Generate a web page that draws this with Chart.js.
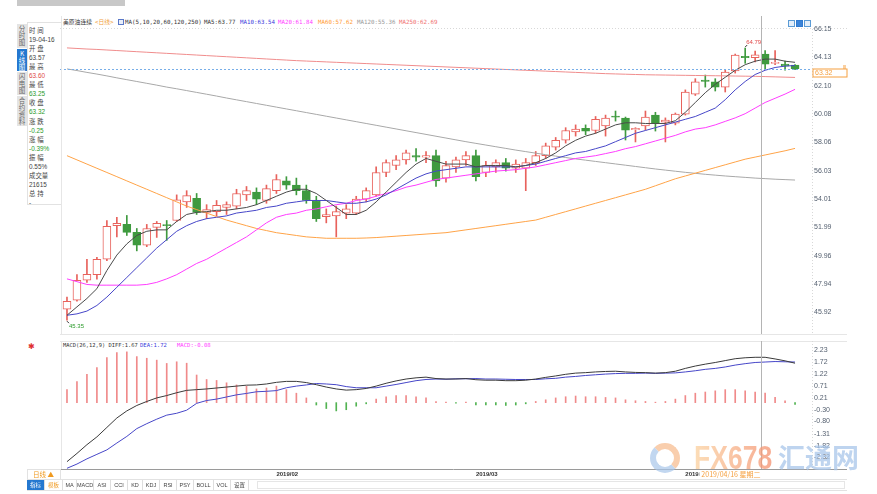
<!DOCTYPE html>
<html><head><meta charset="utf-8">
<script src="https://cdn.jsdelivr.net/npm/chart.js@4.4.0/dist/chart.umd.min.js"></script>
<style>
body{margin:0;width:877px;height:494px;background:#fff;position:relative;overflow:hidden;font-family:'Noto Sans CJK SC','DejaVu Sans',sans-serif;}
.a{position:absolute;white-space:nowrap;}
.mono{font-family:'DejaVu Sans Mono','Noto Sans CJK SC',monospace;font-size:5.8px;line-height:6px;}
.tab{position:absolute;left:17px;width:10px;background:#e4e4e4;color:#666;font-size:6.5px;line-height:7px;text-align:center;padding-top:1px;box-sizing:border-box;}
.info{position:absolute;left:29px;font-size:6.4px;line-height:7px;color:#444;font-family:'Liberation Sans','Noto Sans CJK SC',sans-serif;}
.tb{position:absolute;top:480px;height:10px;font-size:5.5px;line-height:10px;color:#444;text-align:center;border-right:1px solid #dedede;font-family:'Liberation Sans','Noto Sans CJK SC',sans-serif;}
canvas{position:absolute;}
</style></head><body>

<div class="a" style="left:17px;top:0;width:108px;height:6px;background:#c8c8c8"></div>

<div class="tab" style="top:24px;height:24px">分<br>时<br>图</div>
<div class="tab" style="top:49px;height:22px;background:#2478d0;color:#fff">K<br>线<br>图</div>
<div class="tab" style="top:72px;height:23px">闪<br>电<br>图</div>
<div class="tab" style="top:96px;height:30px">合<br>约<br>资<br>料</div>
<div class="a" style="left:27px;top:22px;width:34px;height:183px;border:1px solid #e2e2e2;border-right:none;box-sizing:border-box"></div>

<div id="info"></div>

<div class="a mono" style="left:63px;top:19px;color:#333">美原油连续</div>
<div class="a mono" style="left:95px;top:19px;color:#f0a040">&lt;日线&gt;</div>
<div class="a" style="left:118px;top:19px;width:6px;height:6px;border:1px solid #5a78c8;background:#e8eefa;box-sizing:border-box"></div>
<div class="a mono" style="left:125px;top:19px;color:#333">MA(5,10,20,60,120,250)</div>
<div class="a mono" style="left:204px;top:19px;color:#333">MA5:63.77</div>
<div class="a mono" style="left:240px;top:19px;color:#3b3bdc">MA10:63.54</div>
<div class="a mono" style="left:278px;top:19px;color:#ff3cff">MA20:61.84</div>
<div class="a mono" style="left:318px;top:19px;color:#ff9a33">MA60:57.62</div>
<div class="a mono" style="left:357px;top:19px;color:#999">MA120:55.36</div>
<div class="a mono" style="left:399px;top:19px;color:#f07070">MA250:62.69</div>

<div class="a" style="left:788px;top:20px;width:7px;height:7px;border:1px solid #5b9bd5;background:#e3eefa;box-sizing:border-box"></div>
<div class="a" style="left:796px;top:20px;width:7px;height:7px;border:1px solid #2f7ad0;background:#3c84d8;box-sizing:border-box"></div>
<div class="a" style="left:804px;top:20px;width:7px;height:7px;border:1px solid #5b9bd5;background:#e3eefa;box-sizing:border-box"></div>

<canvas id="cp" width="817" height="319" style="left:60px;top:16px"></canvas>

<div class="a" style="left:28px;top:342px;color:#e03030;font-size:8px;line-height:8px">✱</div>
<div class="a mono" style="left:63px;top:342px;color:#333;font-size:5.4px">MACD(26,12,9) DIFF:1.67</div>
<div class="a mono" style="left:140px;top:342px;color:#3b3bdc;font-size:5.6px">DEA:1.72</div>
<div class="a mono" style="left:177px;top:342px;color:#ff3cff;font-size:5.6px">MACD:-0.08</div>

<canvas id="cm" width="817" height="140" style="left:60px;top:341px"></canvas>

<div class="a" style="left:650px;top:443px;width:30px;height:30px;border-radius:50%;box-sizing:border-box;border:6px solid;border-color:#f7b98a #f7b98a #a9c6ea #a9c6ea;opacity:0.7"></div>
<div class="a" style="left:694px;top:438px;font-family:'Liberation Sans',sans-serif;font-weight:bold;font-size:34px;line-height:38px;transform:scaleX(0.78);transform-origin:left top;background:linear-gradient(90deg,#fbd2a0,#f4906e);-webkit-background-clip:text;color:transparent;opacity:0.75">FX678</div>
<div class="a" style="left:778px;top:441px;font-size:27px;line-height:32px;color:#a9c6ea;opacity:0.75;font-weight:bold">汇通网</div>

<div class="a" style="left:27px;top:469px;width:34px;height:11px;border:1px solid #e2e2e2;box-sizing:border-box"></div>
<div class="a" style="left:33px;top:471px;font-size:6.5px;line-height:7px;color:#f09a20">日线 ▲</div>
<div class="a" style="left:27px;top:479px;width:820px;height:12px;border-top:1px solid #e2e2e2;border-bottom:1px solid #e2e2e2;box-sizing:border-box"></div>
<div id="toolbar"></div>
<div class="a" style="left:257px;top:481px;width:588px;height:8px;border:1px solid #e6e6e6;box-sizing:border-box"></div>

<script>
// ---------- data ----------
const dates = ['2019/01/02','2019/01/03','2019/01/04','2019/01/07','2019/01/08','2019/01/09','2019/01/10','2019/01/11','2019/01/14','2019/01/15','2019/01/16','2019/01/17','2019/01/18','2019/01/22','2019/01/23','2019/01/24','2019/01/25','2019/01/28','2019/01/29','2019/01/30','2019/01/31',
'2019/02/01','2019/02/04','2019/02/05','2019/02/06','2019/02/07','2019/02/08','2019/02/11','2019/02/12','2019/02/13','2019/02/14','2019/02/15','2019/02/18','2019/02/19','2019/02/20','2019/02/21','2019/02/22','2019/02/25','2019/02/26','2019/02/27','2019/02/28',
'2019/03/01','2019/03/04','2019/03/05','2019/03/06','2019/03/07','2019/03/08','2019/03/11','2019/03/12','2019/03/13','2019/03/14','2019/03/15','2019/03/18','2019/03/19','2019/03/20','2019/03/21','2019/03/22','2019/03/25','2019/03/26','2019/03/27','2019/03/28','2019/03/29',
'2019/04/01','2019/04/02','2019/04/03','2019/04/04','2019/04/05','2019/04/08','2019/04/09','2019/04/10','2019/04/11','2019/04/12','2019/04/15','2019/04/16'];

const openP = [46.13,46.77,48.20,48.60,49.70,52.10,52.19,51.62,50.70,51.98,
52.15,52.47,53.80,54.05,53.05,53.10,53.40,53.50,54.30,54.50,
53.90,54.60,55.30,55.00,54.60,53.90,52.75,52.80,53.00,53.00,
54.00,54.30,55.90,56.40,56.80,57.10,57.00,57.10,55.50,56.30,
56.80,57.10,55.90,56.30,56.60,56.20,56.20,56.60,57.10,57.70,
58.20,58.80,59.05,58.90,59.22,59.90,59.79,58.95,59.22,60.00,
59.50,59.43,60.07,61.50,62.50,62.37,62.00,63.15,64.20,64.10,
64.36,63.70,63.64,63.57];
const highP = [46.99,48.60,49.70,49.84,52.47,52.70,52.83,51.90,52.19,52.40,
52.47,54.30,54.60,54.40,53.60,53.90,53.80,54.70,54.90,54.80,
55.00,55.75,55.60,55.50,55.00,54.20,53.30,53.50,53.60,54.20,
54.80,56.30,56.80,57.10,57.50,57.60,57.40,57.50,56.70,57.00,
57.40,57.50,56.70,56.80,56.90,56.80,56.90,57.40,58.00,58.40,
59.10,59.30,59.30,59.90,60.00,60.29,59.86,59.10,60.29,60.20,
59.80,60.15,61.80,62.60,62.86,62.60,63.20,64.36,64.79,64.57,
64.60,64.60,63.85,63.60];
const lowP = [45.35,46.70,48.05,48.27,49.60,51.30,51.40,50.30,50.60,51.26,
51.05,52.40,53.40,52.90,52.60,52.80,52.90,53.30,53.90,53.60,
53.70,54.40,54.70,54.30,53.70,52.40,52.30,51.30,52.60,52.90,
53.80,54.20,55.60,56.10,56.50,56.70,56.60,54.90,55.20,55.90,
56.40,55.30,55.60,55.90,56.00,55.90,54.60,56.40,56.90,57.50,
58.00,58.50,58.60,58.70,58.50,59.57,58.22,58.08,58.93,58.86,
58.08,59.30,60.00,61.40,62.00,61.72,61.65,63.00,63.70,63.80,
63.30,63.60,63.20,63.25];
const closeP = [46.70,48.20,48.63,49.70,52.05,52.27,51.62,50.70,51.90,52.26,
52.10,53.95,54.25,53.05,53.25,53.55,53.60,54.40,54.60,54.00,
54.75,55.40,55.00,54.60,53.90,52.60,52.90,53.10,53.30,54.00,
54.60,55.90,56.60,56.80,57.30,57.00,57.10,55.30,56.40,56.80,
57.10,55.60,56.40,56.60,56.20,56.50,56.60,57.10,57.80,58.20,
58.90,59.00,58.85,59.70,59.79,59.85,58.93,59.05,59.86,59.43,
59.65,60.07,61.65,62.37,62.40,62.00,63.08,64.29,64.10,64.30,
63.64,63.72,63.50,63.32];

const ma5 = [45.70,46.30,46.90,47.60,48.90,50.00,50.80,51.40,51.70,51.80,
51.80,52.40,52.90,53.05,53.10,53.20,53.20,53.30,53.40,53.60,
53.90,54.20,54.50,54.70,54.70,54.40,53.90,53.40,52.90,52.90,
53.20,53.80,54.50,55.20,55.90,56.50,56.90,56.70,56.50,56.50,
56.50,56.30,56.40,56.40,56.40,56.30,56.40,56.60,56.90,57.30,
57.80,58.20,58.50,58.70,59.00,59.30,59.45,59.45,59.40,59.40,
59.40,59.60,60.20,60.90,61.60,62.20,62.70,63.20,63.60,63.85,
64.00,64.00,63.85,63.77];
const ma10 = [45.70,45.80,46.00,46.40,47.00,47.70,48.40,49.10,49.80,50.50,
51.10,51.70,52.10,52.40,52.60,52.70,52.80,53.00,53.10,53.20,
53.40,53.50,53.70,53.80,53.90,53.90,53.90,53.80,53.70,53.70,
53.80,54.00,54.30,54.70,55.10,55.50,55.80,56.00,56.10,56.20,
56.30,56.30,56.30,56.30,56.30,56.30,56.40,56.50,56.70,56.90,
57.10,57.30,57.40,57.60,57.80,58.10,58.40,58.70,58.90,59.10,
59.30,59.50,59.70,59.90,60.20,60.50,61.10,61.80,62.40,62.90,
63.20,63.40,63.50,63.54];
const ma20 = [48.30,48.10,47.90,47.85,47.85,47.85,47.85,47.85,47.90,48.05,
48.30,48.60,49.00,49.40,49.70,50.10,50.50,50.90,51.30,51.80,
52.30,52.70,52.90,53.00,53.20,53.30,53.45,53.60,53.70,53.90,
54.00,54.20,54.40,54.60,54.85,55.00,55.20,55.40,55.50,55.60,
55.70,55.80,55.90,56.00,56.05,56.10,56.20,56.30,56.45,56.60,
56.75,56.90,57.00,57.10,57.25,57.40,57.60,57.75,57.95,58.15,
58.35,58.55,58.80,59.00,59.10,59.30,59.55,59.80,60.10,60.50,
60.90,61.20,61.50,61.84];
const ma60 = [57.10,56.80,56.50,56.20,55.90,55.60,55.30,55.00,54.70,54.40,
54.10,53.80,53.50,53.25,53.00,52.75,52.50,52.30,52.10,51.90,
51.75,51.60,51.50,51.40,51.30,51.25,51.20,51.20,51.20,51.20,
51.22,51.25,51.30,51.35,51.40,51.45,51.50,51.55,51.60,51.70,
51.80,51.90,52.00,52.10,52.20,52.30,52.40,52.50,52.70,52.90,
53.10,53.30,53.50,53.70,53.90,54.10,54.30,54.50,54.70,54.95,
55.20,55.45,55.65,55.85,56.05,56.25,56.45,56.65,56.85,57.00,
57.15,57.30,57.45,57.62];
const ma120 = [63.30,63.18,63.05,62.93,62.80,62.66,62.53,62.40,62.27,62.14,
62.00,61.88,61.75,61.62,61.49,61.36,61.22,61.09,60.96,60.83,
60.70,60.57,60.44,60.31,60.18,60.05,59.92,59.79,59.66,59.53,
59.40,59.27,59.14,59.01,58.88,58.75,58.62,58.49,58.36,58.23,
58.10,57.98,57.86,57.74,57.62,57.50,57.39,57.28,57.17,57.07,
56.97,56.87,56.78,56.69,56.60,56.51,56.42,56.33,56.24,56.15,
56.07,55.99,55.91,55.84,55.77,55.71,55.65,55.60,55.55,55.50,
55.46,55.42,55.39,55.36];
const ma250 = [64.80,64.76,64.72,64.69,64.65,64.61,64.57,64.53,64.49,64.45,
64.41,64.37,64.33,64.29,64.25,64.21,64.17,64.13,64.09,64.05,
64.01,63.97,63.93,63.89,63.86,63.83,63.80,63.77,63.74,63.71,
63.68,63.65,63.62,63.59,63.56,63.53,63.50,63.47,63.44,63.41,
63.38,63.35,63.32,63.29,63.26,63.23,63.20,63.17,63.14,63.11,
63.08,63.05,63.02,62.99,62.96,62.94,62.92,62.90,62.88,62.87,
62.86,62.85,62.84,62.83,62.82,62.81,62.80,62.79,62.78,62.77,
62.75,62.73,62.71,62.69];

const macdHist = [0.55,0.89,1.20,1.48,1.91,2.12,2.15,1.95,1.88,1.80,
1.66,1.73,1.67,1.17,0.98,0.94,0.84,0.75,0.70,0.58,
0.62,0.70,0.55,0.40,0.20,-0.10,-0.25,-0.35,-0.30,-0.15,
-0.05,0.15,0.25,0.30,0.30,0.25,0.20,0.05,0.02,-0.02,
0.02,-0.10,-0.10,-0.10,-0.12,-0.10,-0.05,0.05,0.12,0.20,
0.25,0.28,0.25,0.25,0.22,0.20,0.12,0.08,0.05,0.02,
0.05,0.15,0.30,0.40,0.45,0.50,0.55,0.55,0.50,0.45,
0.40,0.23,0.08,-0.08];
const diffLine = [-2.50,-2.15,-1.78,-1.45,-1.05,-0.65,-0.35,-0.12,0.05,0.20,
0.30,0.42,0.52,0.55,0.58,0.62,0.66,0.70,0.74,0.75,
0.79,0.86,0.90,0.90,0.85,0.76,0.66,0.58,0.53,0.55,
0.60,0.70,0.82,0.92,1.00,1.05,1.08,1.02,1.00,1.00,
1.02,0.97,0.95,0.95,0.93,0.93,0.95,1.00,1.07,1.13,
1.20,1.25,1.27,1.30,1.32,1.33,1.30,1.28,1.27,1.25,
1.27,1.33,1.45,1.55,1.63,1.70,1.78,1.86,1.90,1.92,
1.92,1.85,1.77,1.67];
const deaLine = [-2.78,-2.60,-2.38,-2.19,-2.00,-1.71,-1.43,-1.10,-0.89,-0.70,
-0.53,-0.45,-0.32,-0.03,0.09,0.15,0.24,0.33,0.39,0.46,
0.48,0.51,0.63,0.70,0.75,0.81,0.79,0.76,0.68,0.63,
0.63,0.63,0.70,0.77,0.85,0.93,0.98,1.00,0.99,1.01,
1.01,1.02,1.00,1.00,0.99,0.98,0.98,0.98,1.01,1.03,
1.08,1.11,1.15,1.18,1.21,1.23,1.24,1.24,1.25,1.24,
1.25,1.26,1.30,1.35,1.41,1.45,1.51,1.59,1.65,1.70,
1.72,1.74,1.73,1.72];

const priceTicks = [45.92,47.94,49.96,51.99,54.01,56.03,58.06,60.08,62.10,64.13,66.15];
const macdTicks = [2.23,1.72,1.22,0.71,0.21,-0.30,-0.80,-1.31,-1.82,-2.32];
const monthLabels = ['2019/02','2019/03','2019/04'];
const crossIdx = 69.6;
const crossLabel = '2019/04/16 星期二';

const infoRows = [['时 间','#444'],['19-04-16','#444'],['开 盘','#444'],['63.57','#444'],['最 高','#444'],['63.60','#e04848'],
['最 低','#444'],['63.25','#2a9a2a'],['收 盘','#444'],['63.32','#2a9a2a'],['涨 跌','#444'],['-0.25','#2a9a2a'],
['涨 幅','#444'],['-0.39%','#2a9a2a'],['振 幅','#444'],['0.55%','#444'],['成交量','#444'],['21615','#444'],['总 持','#444'],['-','#444']];
const toolItems = ['指标','模板','MA','MACD','ASI','CCI','KD','KDJ','RSI','PSY','BOLL','VOL','设置'];

// ---------- html bits ----------
const info = document.getElementById('info');
infoRows.forEach((r,i)=>{
  const d=document.createElement('div'); d.className='info';
  d.style.top=(26.5+i*9.1)+'px'; d.style.color=r[1]; d.textContent=r[0]; info.appendChild(d);
});
const tb = document.getElementById('toolbar');
const tbW = [17,17,13,16,16,16,14,16,16,16,19,16,17];
let tx=27;
toolItems.forEach((t,i)=>{
  const d=document.createElement('div'); d.className='tb'; d.textContent=t;
  d.style.left=tx+'px'; d.style.width=tbW[i]+'px';
  if(i===0){d.style.background='#2478d0';d.style.color='#fff';}
  if(i===1){d.style.color='#f09a20';}
  tb.appendChild(d); tx+=tbW[i]+1;
});

// ---------- charts ----------
const N = dates.length;
const RED='#e8625c', GREEN='#3f9a3f';
const isUp = closeP.map((c,i)=>c>=openP[i]);
const xy = arr => arr.map((v,i)=>({x:i,y:v}));
const monthIdx = [];
dates.forEach((d,i)=>{ if(i>0 && d.slice(0,7)!==dates[i-1].slice(0,7)) monthIdx.push(i); });
const xMin=-0.70, xMax=74.70;
const fixY = w => s => { s.width=w; s.paddingTop=0; s.paddingBottom=0; };

const lineDs = (arr,color)=>({type:'line',data:xy(arr),borderColor:color,borderWidth:1,pointRadius:0,tension:0,order:0});

const pricePlugin = {
  id:'pp',
  afterDatasetsDraw(chart){
    const {ctx, chartArea:a, scales:{x,y}} = chart;
    ctx.save();
    ctx.lineWidth=1;
    ctx.strokeStyle='#d8d8d8'; ctx.setLineDash([1,2]);
    ctx.beginPath(); ctx.moveTo(a.left,a.top-0.5); ctx.lineTo(a.right+35,a.top-0.5); ctx.stroke();
    ctx.beginPath(); ctx.moveTo(a.right+0.5,a.top); ctx.lineTo(a.right+0.5,a.bottom); ctx.stroke();
    const yl = Math.round(y.getPixelForValue(closeP[N-1]))+0.5;
    ctx.strokeStyle='#78aee8'; ctx.setLineDash([2,2]);
    ctx.beginPath(); ctx.moveTo(a.left,yl); ctx.lineTo(a.right,yl); ctx.stroke();
    ctx.setLineDash([]);
    const xc = Math.round(x.getPixelForValue(crossIdx))+0.5;
    ctx.strokeStyle='#b4b4b4';
    ctx.beginPath(); ctx.moveTo(xc,0); ctx.lineTo(xc,a.bottom); ctx.stroke();
    ctx.strokeStyle='#e6e6e6';
    ctx.beginPath(); ctx.moveTo(a.left,a.bottom-0.5); ctx.lineTo(a.right+35,a.bottom-0.5); ctx.stroke();
    ctx.beginPath(); ctx.moveTo(a.left+1.5,0); ctx.lineTo(a.left+1.5,a.bottom); ctx.stroke();
    let iMax=0,iMin=0;
    highP.forEach((v,i)=>{ if(v>highP[iMax]) iMax=i; });
    lowP.forEach((v,i)=>{ if(v<lowP[iMin]) iMin=i; });
    ctx.font='6px "Liberation Sans"'; ctx.textBaseline='middle'; ctx.textAlign='left';
    let px=x.getPixelForValue(iMax), py=y.getPixelForValue(highP[iMax]);
    ctx.strokeStyle='#333'; ctx.beginPath(); ctx.moveTo(px,py-1); ctx.lineTo(px+2,py-3); ctx.stroke();
    ctx.fillStyle='#e04848'; ctx.fillText(highP[iMax].toFixed(2), px+1, py-6);
    px=x.getPixelForValue(iMin); py=y.getPixelForValue(lowP[iMin]);
    ctx.strokeStyle='#333'; ctx.beginPath(); ctx.moveTo(px,py+1); ctx.lineTo(px+2,py+3); ctx.stroke();
    ctx.fillStyle='#2a9a2a'; ctx.fillText(lowP[iMin].toFixed(2), px+2, py+6);
    ctx.fillStyle='#fff'; ctx.fillRect(a.right+1, yl-0.5, 34, 8);
    ctx.strokeStyle='#f5a040'; ctx.strokeRect(a.right+1, yl-0.5, 34, 8);
    ctx.fillStyle='#f5a040'; ctx.font='7px "Liberation Sans"';
    ctx.fillText(closeP[N-1].toFixed(2), a.right+3, yl+3.5);
    ctx.fillRect(a.right+31, yl-4, 3, 1); ctx.fillRect(a.right+31, yl-2, 3, 1);
    ctx.restore();
  }
};

new Chart(document.getElementById('cp'), {
  type:'bar',
  data:{datasets:[
    lineDs(ma5,'#4a4a4a'), lineDs(ma10,'#4646c8'), lineDs(ma20,'#ff3cff'),
    lineDs(ma60,'#ffa347'), lineDs(ma120,'#a8a8a8'), lineDs(ma250,'#f08c8c'),
    {type:'bar', data:dates.map((d,i)=>({x:i,y:[openP[i],closeP[i]]})),
     backgroundColor:isUp.map(u=>u?'#ffffff':GREEN), borderColor:isUp.map(u=>u?RED:GREEN),
     borderWidth:1, borderSkipped:false, barThickness:8, grouped:false, order:1, minBarLength:1},
    {type:'bar', data:dates.map((d,i)=>({x:i,y:[lowP[i],highP[i]]})),
     backgroundColor:isUp.map(u=>u?RED:GREEN), borderWidth:0, barThickness:1, grouped:false, order:2}
  ]},
  options:{responsive:false, animation:false, events:[], layout:{padding:{top:13,left:0,right:0,bottom:0}},
    plugins:{legend:{display:false}, tooltip:{enabled:false}},
    scales:{
      x:{type:'linear', offset:false, min:xMin, max:xMax, display:false},
      y:{position:'right', min:44.29, max:66.15,
         afterBuildTicks:s=>{ s.ticks = priceTicks.map(v=>({value:v})); },
         afterFit:fixY(65),
         grid:{display:false, drawTicks:false}, border:{display:false},
         ticks:{padding:2, color:'#556070', font:{size:7,family:'Liberation Sans'}, callback:v=>Number(v).toFixed(2)}}
    }},
  plugins:[pricePlugin]
});

const macdPlugin = {
  id:'mp',
  afterDatasetsDraw(chart){
    const {ctx, chartArea:a, scales:{x}} = chart;
    ctx.save(); ctx.lineWidth=1;
    ctx.strokeStyle='#e6e6e6';
    ctx.beginPath(); ctx.moveTo(a.left,a.top+0.5); ctx.lineTo(a.right+35,a.top+0.5); ctx.stroke();
    ctx.beginPath(); ctx.moveTo(a.left+1.5,a.top); ctx.lineTo(a.left+1.5,a.bottom); ctx.stroke();
    ctx.strokeStyle='#d8d8d8'; ctx.setLineDash([1,2]);
    ctx.beginPath(); ctx.moveTo(a.right+0.5,a.top); ctx.lineTo(a.right+0.5,a.bottom); ctx.stroke();
    ctx.setLineDash([]);
    const xc = Math.round(x.getPixelForValue(crossIdx))+0.5;
    ctx.strokeStyle='#b4b4b4';
    ctx.beginPath(); ctx.moveTo(xc,a.top); ctx.lineTo(xc,a.bottom); ctx.stroke();
    ctx.strokeStyle='#9a9a9a';
    ctx.beginPath(); ctx.moveTo(a.left,a.bottom+0.5); ctx.lineTo(a.right+35,a.bottom+0.5); ctx.stroke();
    ctx.restore();
  },
  afterDraw(chart){
    const {ctx, chartArea:a, scales:{x}} = chart;
    const xc = Math.round(x.getPixelForValue(crossIdx))+0.5;
    ctx.save();
    ctx.font='7px "Noto Sans CJK SC"';
    const w = ctx.measureText(crossLabel).width+3;
    ctx.fillStyle='#fff'; ctx.fillRect(xc-w, a.bottom+1, w, 9);
    ctx.fillStyle='#f5a040'; ctx.textAlign='right'; ctx.textBaseline='middle';
    ctx.fillText(crossLabel, xc-1, a.bottom+5.5);
    ctx.restore();
  }
};

new Chart(document.getElementById('cm'), {
  type:'bar',
  data:{datasets:[
    {type:'line', data:xy(diffLine), borderColor:'#3a3a3a', borderWidth:1, pointRadius:0, tension:0, order:0},
    {type:'line', data:xy(deaLine), borderColor:'#4646c8', borderWidth:1, pointRadius:0, tension:0, order:0},
    {type:'bar', data:xy(macdHist), backgroundColor:macdHist.map(v=>v>=0?'#f08a8a':'#52b352'),
     borderWidth:0, barThickness:1, grouped:false, order:1}
  ]},
  options:{responsive:false, animation:false, events:[], layout:{padding:0},
    plugins:{legend:{display:false}, tooltip:{enabled:false}},
    scales:{
      x:{type:'linear', offset:false, min:xMin, max:xMax, position:'bottom',
         afterBuildTicks:s=>{ s.ticks = monthIdx.map(v=>({value:v})); },
         afterFit:s=>{ s.height=12; s.paddingLeft=0; s.paddingRight=0; },
         grid:{display:false, drawTicks:false}, border:{display:false},
         ticks:{autoSkip:false, maxRotation:0, align:'start', padding:2, color:'#333',
                font:{size:6, family:'Liberation Sans', weight:'bold'},
                callback:v=>{ const k=monthIdx.indexOf(v); return k>=0?monthLabels[k]:''; }}},
      y:{position:'right', min:-2.81, max:2.61,
         afterBuildTicks:s=>{ s.ticks = macdTicks.map(v=>({value:v})); },
         afterFit:fixY(65),
         grid:{display:false, drawTicks:false}, border:{display:false},
         ticks:{padding:2, color:'#556070', font:{size:7,family:'Liberation Sans'}, callback:v=>Number(v).toFixed(2)}}
    }},
  plugins:[macdPlugin]
});
</script>
</body></html>
